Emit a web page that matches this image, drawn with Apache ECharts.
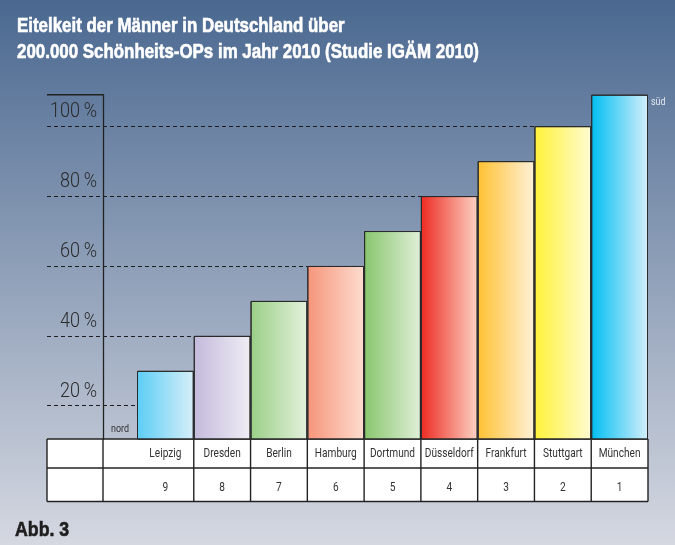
<!DOCTYPE html>
<html>
<head>
<meta charset="utf-8">
<title>Abb. 3</title>
<script src="https://cdn.jsdelivr.net/npm/echarts@6/dist/echarts.min.js"></script>
<style>
    html, body { margin: 0; padding: 0; }
    #main { width: 675px; height: 545px; }
</style>
</head>
<body>
<div id="main"></div>
<script type="text/javascript">
    // Daten: Städte von nord nach süd
    const staedte = ['Leipzig', 'Dresden', 'Berlin', 'Hamburg', 'Dortmund', 'Düsseldorf', 'Frankfurt', 'Stuttgart', 'München'];
    const rang = [9, 8, 7, 6, 5, 4, 3, 2, 1];
    const anteil = [30, 40, 50, 60, 70, 80, 90, 100, 109];
    const skala = [20, 40, 60, 80, 100];          // beschriftete Prozentstufen
    const achseMin = 10.5, achseMax = 109;         // sichtbarer Bereich der Balken

    // Farbverläufe der Balken (links kräftig, rechts blass)
    const farben = [
        ['#5ccdf5', '#d7eff9'],
        ['#c4badb', '#efedf5'],
        ['#9acf86', '#e4f1dd'],
        ['#f6957a', '#fddccf'],
        ['#88c66d', '#e1efd9'],
        ['#ed2b22', '#fcd3c5'],
        ['#fec132', '#fff1d8'],
        ['#fff238', '#fffbd2'],
        ['#00bff2', '#d5eefb']
    ];

    const titel = ['Eitelkeit der Männer in Deutschland über', '200.000 Schönheits-OPs im Jahr 2010 (Studie IGÄM 2010)'];

    // Schriften (schmal wie Helvetica Condensed: per scaleX gestaucht)
    const F_TITEL = "bold 20px 'Liberation Sans', Arial, sans-serif";
    const F_ACHSE = "300 21px Roboto, 'Liberation Sans', sans-serif";
    const F_TAB = "13px Roboto, 'Liberation Sans', sans-serif";
    const F_KLEIN = "11.5px Roboto, 'Liberation Sans', sans-serif";

    const mess = document.createElement('canvas').getContext('2d');
    function breite(text, font) { mess.font = font; return mess.measureText(text).width; }

    const sTitel = 462 / breite(titel[1], F_TITEL);
    const sAchse = 37 / breite('20\u2009%', F_ACHSE);
    const sTab = 49 / breite('Düsseldorf', F_TAB);

    const chart = echarts.init(document.getElementById('main'));

    function verlauf(a, b) {
        return new echarts.graphic.LinearGradient(0, 0, 1, 0, [
            { offset: 0, color: a }, { offset: 1, color: b }
        ]);
    }

    chart.setOption({
        animation: false,
        backgroundColor: new echarts.graphic.LinearGradient(0, 0, 0, 1, [
            { offset: 0, color: '#4a6890' },
            { offset: 1, color: '#d5d8e1' }
        ]),
        grid: [
            { left: 137, right: 27, top: 94.7, bottom: 106 },    // Balken
            { left: 47, right: 27, top: 126, bottom: 139.3 }     // Hilfslinien
        ],
        xAxis: [
            { type: 'category', gridIndex: 0, data: staedte, show: false },
            { type: 'value', gridIndex: 1, show: false, min: 0, max: 1 }
        ],
        yAxis: [
            {
                type: 'value', gridIndex: 0, min: achseMin, max: achseMax, offset: 34,
                splitLine: { show: false }, axisTick: { show: false }, axisLabel: { show: false },
                axisLine: { show: true, lineStyle: { color: '#222', width: 1.3 } }
            },
            {
                type: 'value', gridIndex: 1,
                min: skala[0], max: skala[skala.length - 1], interval: skala[1] - skala[0],
                axisLine: { show: false }, axisTick: { show: false }, axisLabel: { show: false },
                splitLine: { show: true, lineStyle: { color: '#1e1e1e', type: [4, 3], width: 1.2 } }
            }
        ],
        series: [
            {
                type: 'bar', xAxisIndex: 0, yAxisIndex: 0, barWidth: '100%', clip: true, z: 3,
                itemStyle: { borderColor: '#2a2a2a', borderWidth: 1 },
                data: anteil.map(function (v, i) {
                    return { value: v, itemStyle: { color: verlauf(farben[i][0], farben[i][1]) } };
                })
            }
        ]
    });

    // Texte und Tabelle, Positionen aus den Achsen
    const mitten = staedte.map(function (s, i) { return chart.convertToPixel({ xAxisIndex: 0 }, i); });
    const band = mitten[1] - mitten[0];
    const yOben = chart.convertToPixel({ yAxisIndex: 0 }, achseMax);
    const yBasis = chart.convertToPixel({ yAxisIndex: 0 }, achseMin);
    const links = 47, achseX = mitten[0] - band / 2 - 34;
    const rechts = mitten[mitten.length - 1] + band / 2;
    const zeilen = [yBasis, yBasis + 29, yBasis + 62.5];
    const linie = { stroke: '#222', lineWidth: 1.4 };

    function text(t, x, y, font, farbe, align, s, fett) {
        const st = { text: t, font: font, fill: farbe, align: align, verticalAlign: 'middle' };
        if (fett) { st.stroke = farbe; st.lineWidth = fett; }
        return { type: 'text', x: x, y: y, scaleX: s, silent: true, z: 5, style: st };
    }

    const elemente = [{
        type: 'rect', z: -1, silent: true,
        shape: { x: links, y: zeilen[0], width: rechts - links, height: zeilen[2] - zeilen[0] },
        style: { fill: '#fff' }
    }];
    zeilen.forEach(function (y) {
        elemente.push({ type: 'line', shape: { x1: links, y1: y, x2: rechts, y2: y }, style: linie });
    });
    [links, achseX].concat(mitten.map(function (m) { return m + band / 2; })).forEach(function (x) {
        elemente.push({ type: 'line', shape: { x1: x, y1: zeilen[0], x2: x, y2: zeilen[2] }, style: linie });
    });
    elemente.push({ type: 'line', shape: { x1: links, y1: yOben, x2: achseX, y2: yOben }, style: linie });

    // Tabelleninhalt
    staedte.forEach(function (s, i) {
        elemente.push(text(s, mitten[i], (zeilen[0] + zeilen[1]) / 2 + 0.5, F_TAB, '#333', 'center', sTab));
        elemente.push(text(String(rang[i]), mitten[i], (zeilen[1] + zeilen[2]) / 2 + 3, F_TAB, '#333', 'center', sTab));
    });

    // Prozentbeschriftung über den Hilfslinien
    skala.forEach(function (v) {
        const y = chart.convertToPixel({ yAxisIndex: 1 }, v);
        elemente.push(text(v + '\u2009%', achseX - 6, y - 14, F_ACHSE, '#2a2a2a', 'right', sAchse));
    });

    elemente.push(text('nord', achseX + 8, yBasis - 10, F_KLEIN, '#333', 'left', sTab));
    elemente.push(text('süd', rechts + 3, yOben + 7, F_KLEIN, '#e4e8ef', 'left', sTab));

    // Überschrift und Abbildungsnummer
    elemente.push(text(titel[0], 17, 26, F_TITEL, '#fff', 'left', sTitel, 0.6));
    elemente.push(text(titel[1], 17, 52, F_TITEL, '#fff', 'left', sTitel, 0.6));
    elemente.push(text('Abb. 3', 15, 530, "bold 21px 'Liberation Sans', Arial, sans-serif", '#1e1e1e', 'left', sTitel, 0.6));

    chart.setOption({ graphic: elemente });
</script>
</body>
</html>
